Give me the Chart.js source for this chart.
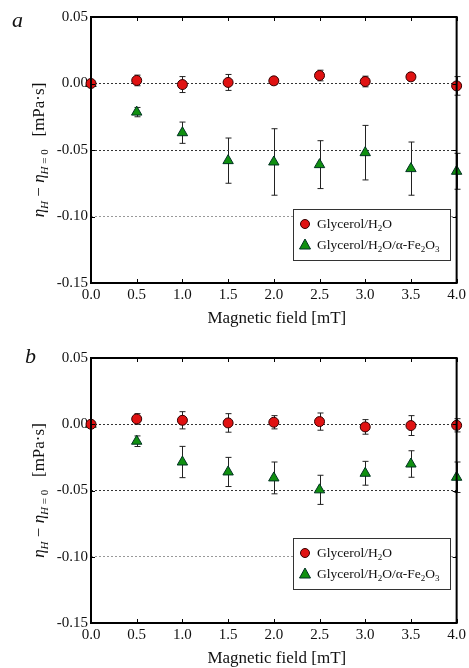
<!DOCTYPE html>
<html>
<head>
<meta charset="utf-8">
<script src="https://cdn.jsdelivr.net/npm/chart.js@4.4.0/dist/chart.umd.min.js"></script>
<style>
  body { margin: 0; background: #fff; }
  .panel { position: absolute; left: 0; width: 469px; height: 334px; }
</style>
</head>
<body>
<div class="panel" style="top:0"><canvas id="ca" width="469" height="334"></canvas></div>
<div class="panel" style="top:334px"><canvas id="cb" width="469" height="334"></canvas></div>
<script>
// magnetic field values (mT)
var field = [0.0, 0.5, 1.0, 1.5, 2.0, 2.5, 3.0, 3.5, 4.0];
var yTicks = [0.05, 0.00, -0.05, -0.10, -0.15];

// panel a
var glyA    = [0.000, 0.0023, -0.0008, 0.0008, 0.0020, 0.0060, 0.0015, 0.0050, -0.0018];
var glyAErr = [0.000, 0.0040, 0.0060, 0.0060, 0.0025, 0.0040, 0.0040, 0.0023, 0.0070];
var feA     = [0.000, -0.0215, -0.0370, -0.0580, -0.0590, -0.0610, -0.0520, -0.0640, -0.0660];
var feAErr  = [0.000, 0.0035, 0.0080, 0.0170, 0.0250, 0.0180, 0.0205, 0.0200, 0.0135];

// panel b
var glyB    = [0.000, 0.0040, 0.0030, 0.0010, 0.0015, 0.0020, -0.0020, -0.0010, -0.0008];
var glyBErr = [0.000, 0.0040, 0.0065, 0.0070, 0.0050, 0.0065, 0.0055, 0.0075, 0.0050];
var feB     = [0.000, -0.0128, -0.0285, -0.0360, -0.0405, -0.0495, -0.0370, -0.0300, -0.0400];
var feBErr  = [0.000, 0.0040, 0.0118, 0.0110, 0.0120, 0.0110, 0.0090, 0.0100, 0.0115];

var SERIF = "'Liberation Serif', 'Times New Roman', 'DejaVu Serif', serif";

// draws text made of pieces, some of them subscript
function drawParts(ctx, parts, x, y, size) {
    var cx = x;
    parts.forEach(function (p) {
        var fs = p.sub ? Math.round(size * 0.66) : size;
        ctx.font = (p.it ? 'italic ' : '') + fs + 'px ' + SERIF;
        ctx.fillText(p.t, cx, p.sub ? y + size * 0.25 : y);
        cx += ctx.measureText(p.t).width;
    });
    return cx - x;
}
function partsWidth(ctx, parts, size) {
    var w = 0;
    parts.forEach(function (p) {
        var fs = p.sub ? Math.round(size * 0.66) : size;
        ctx.font = (p.it ? 'italic ' : '') + fs + 'px ' + SERIF;
        w += ctx.measureText(p.t).width;
    });
    return w;
}

var yTitle = [
    {t: 'η', it: true}, {t: 'H', it: true, sub: true},
    {t: ' − '},
    {t: 'η', it: true}, {t: 'H', it: true, sub: true}, {t: ' = 0', sub: true},
    {t: '   [mPa·s]'}
];
var leg1 = [{t: 'Glycerol/H'}, {t: '2', sub: true}, {t: 'O'}];
var leg2 = [{t: 'Glycerol/H'}, {t: '2', sub: true}, {t: 'O/α-Fe'}, {t: '2', sub: true}, {t: 'O'}, {t: '3', sub: true}];

function makeChart(id, letter, gly, glyErr, fe, feErr, cfg) {
    var errPlugin = {
        id: 'errbars',
        beforeDatasetsDraw: function (chart) {
            var ctx = chart.ctx, xs = chart.scales.x, ys = chart.scales.y;
            ctx.save();
            ctx.strokeStyle = '#222';
            ctx.lineWidth = 1;
            [[gly, glyErr], [fe, feErr]].forEach(function (s) {
                for (var i = 0; i < field.length; i++) {
                    if (!s[1][i]) continue;
                    var px = Math.round(xs.getPixelForValue(field[i])) + 0.5;
                    var y1 = ys.getPixelForValue(s[0][i] + s[1][i]);
                    var y2 = ys.getPixelForValue(s[0][i] - s[1][i]);
                    ctx.beginPath();
                    ctx.moveTo(px, y1); ctx.lineTo(px, y2);
                    ctx.moveTo(px - 3, y1); ctx.lineTo(px + 3, y1);
                    ctx.moveTo(px - 3, y2); ctx.lineTo(px + 3, y2);
                    ctx.stroke();
                }
            });
            ctx.restore();
        },
        afterDraw: function (chart) {
            var ctx = chart.ctx, a = chart.chartArea, xs = chart.scales.x, ys = chart.scales.y;
            ctx.save();
            // inward ticks
            ctx.strokeStyle = '#000';
            ctx.lineWidth = 1;
            ctx.beginPath();
            field.forEach(function (f) {
                var px = Math.round(xs.getPixelForValue(f)) + 0.5;
                ctx.moveTo(px, a.bottom); ctx.lineTo(px, a.bottom - 4);
                ctx.moveTo(px, a.top); ctx.lineTo(px, a.top + 4);
            });
            yTicks.forEach(function (v) {
                var py = Math.round(ys.getPixelForValue(v)) + 0.5;
                ctx.moveTo(a.left, py); ctx.lineTo(a.left + 4, py);
                ctx.moveTo(a.right, py); ctx.lineTo(a.right - 4, py);
            });
            ctx.stroke();
            // frame
            ctx.lineWidth = 2;
            ctx.strokeRect(a.left, a.top, a.right - a.left, a.bottom - a.top);

            // legend
            var lx = 293, ly = cfg.legTop, lw = 157, lh = 51;
            ctx.fillStyle = '#fff';
            ctx.fillRect(lx, ly, lw, lh);
            ctx.lineWidth = 1;
            ctx.strokeStyle = '#333';
            ctx.strokeRect(lx + 0.5, ly + 0.5, lw, lh);
            ctx.strokeStyle = '#300';
            ctx.fillStyle = '#e01212';
            ctx.beginPath();
            ctx.arc(305, ly + 15, 4.5, 0, Math.PI * 2);
            ctx.fill(); ctx.stroke();
            ctx.strokeStyle = '#032';
            ctx.fillStyle = '#109010';
            ctx.beginPath();
            ctx.moveTo(305, ly + 30); ctx.lineTo(310.5, ly + 40); ctx.lineTo(299.5, ly + 40);
            ctx.closePath();
            ctx.fill(); ctx.stroke();
            ctx.fillStyle = '#111';
            ctx.textAlign = 'left';
            ctx.textBaseline = 'alphabetic';
            drawParts(ctx, leg1, 317, ly + 19, 13.5);
            drawParts(ctx, leg2, 317, ly + 40, 13.5);

            // axis titles
            ctx.font = '17px ' + SERIF;
            ctx.textAlign = 'center';
            ctx.fillText('Magnetic field [mT]', (a.left + a.right) / 2 + 3, cfg.xTitleY);
            ctx.save();
            ctx.translate(44, (a.top + a.bottom) / 2);
            ctx.rotate(-Math.PI / 2);
            ctx.textAlign = 'left';
            var w = partsWidth(ctx, yTitle, 17);
            drawParts(ctx, yTitle, -w / 2, 0, 17);
            ctx.restore();

            // panel letter
            ctx.font = 'italic 22px ' + SERIF;
            ctx.textAlign = 'left';
            ctx.fillText(letter, cfg.letterX, cfg.letterY);
            ctx.restore();
        }
    };

    return new Chart(document.getElementById(id), {
        type: 'scatter',
        data: {
            datasets: [
                {
                    label: 'Glycerol/H₂O',
                    data: field.map(function (f, i) { return {x: f, y: gly[i]}; }),
                    pointStyle: 'circle',
                    pointRadius: 5,
                    backgroundColor: '#e01212',
                    borderColor: '#300',
                    borderWidth: 1
                },
                {
                    label: 'Glycerol/H₂O/α-Fe₂O₃',
                    data: field.map(function (f, i) { return {x: f, y: fe[i]}; }),
                    pointStyle: 'triangle',
                    pointRadius: 6,
                    backgroundColor: '#109010',
                    borderColor: '#032',
                    borderWidth: 1
                }
            ]
        },
        options: {
            responsive: false,
            animation: false,
            clip: false,
            layout: {padding: {top: cfg.top, right: 10, left: 0, bottom: 0}},
            plugins: {legend: {display: false}, tooltip: {enabled: false}},
            scales: {
                x: {
                    type: 'linear', min: 0, max: 4,
                    afterFit: function (s) { s.height = cfg.xh; },
                    ticks: {
                        stepSize: 0.5, padding: 3, color: '#111',
                        font: {family: SERIF, size: 15},
                        callback: function (v) { return v.toFixed(1); }
                    },
                    grid: {display: false, drawTicks: false},
                    border: {display: false}
                },
                y: {
                    type: 'linear', min: -0.15, max: 0.05,
                    afterFit: function (s) { s.width = 91; },
                    afterBuildTicks: function (s) {
                        s.ticks = yTicks.map(function (v) { return {value: v}; });
                    },
                    ticks: {
                        padding: 3, color: '#111',
                        font: {family: SERIF, size: 15},
                        callback: function (v) { return v.toFixed(2); }
                    },
                    grid: {
                        drawTicks: false,
                        color: function (c) {
                            var v = c.tick ? c.tick.value : 0;
                            if (Math.abs(v - 0.05) < 1e-6 || Math.abs(v + 0.15) < 1e-6) return 'rgba(0,0,0,0)';
                            if (Math.abs(v + 0.10) < 1e-6) return '#999';
                            return '#333';
                        },
                        lineWidth: 1
                    },
                    border: {display: false, dash: [2, 2]}
                }
            }
        },
        plugins: [errPlugin]
    });
}

makeChart('ca', 'a', glyA, glyAErr, feA, feAErr,
    {top: 17, xh: 51, legTop: 209, xTitleY: 323, letterX: 12, letterY: 27});
makeChart('cb', 'b', glyB, glyBErr, feB, feBErr,
    {top: 24, xh: 45, legTop: 204, xTitleY: 329, letterX: 25, letterY: 29});
</script>
</body>
</html>
